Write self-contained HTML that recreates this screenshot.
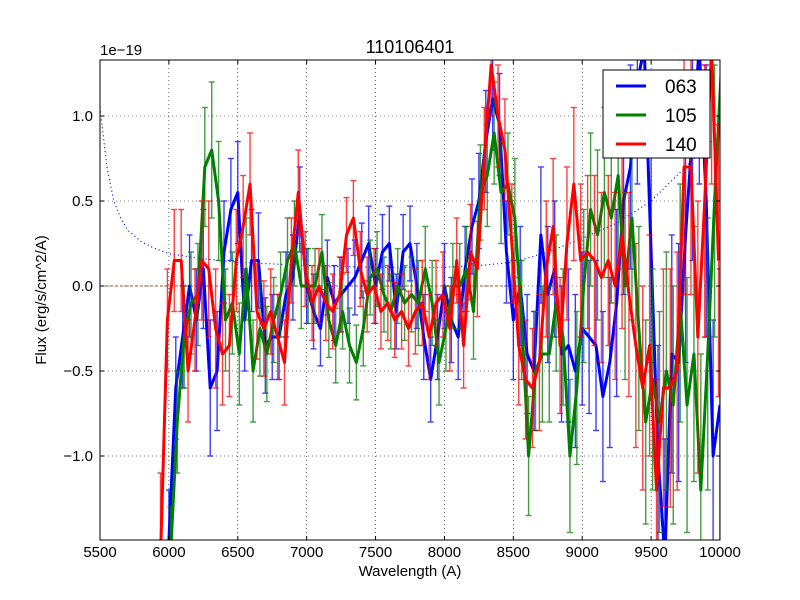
<!DOCTYPE html>
<html><head><meta charset="utf-8"><style>
html,body{margin:0;padding:0;background:#fff;width:800px;height:600px;overflow:hidden;}
svg{display:block;overflow:hidden;}
svg text{font-family:"Liberation Sans","DejaVu Sans",sans-serif;}
</style></head><body>
<svg width="800" height="600" viewBox="0 0 800 600">
<rect width="800" height="600" fill="#fff"/>
<defs><clipPath id="pc"><rect x="100" y="60" width="620" height="480"/></clipPath></defs>
<g id="grid"></g>
<g id="marks" clip-path="url(#pc)"></g>
<rect x="100" y="60" width="620" height="480" fill="none" stroke="#000" stroke-width="1"/>
<g id="ticks"></g>
<text x="410" y="53" font-size="18" text-anchor="middle">110106401</text>
<text x="410" y="576" font-size="15" text-anchor="middle">Wavelength (A)</text>
<text x="46" y="300" font-size="15" text-anchor="middle" transform="rotate(-90 46 300)">Flux (erg/s/cm^2/A)</text>
<text x="100" y="55" font-size="15">1e−19</text>
<g>
<rect x="603" y="70" width="107" height="88" fill="#fff" stroke="#000" stroke-width="1"/>
<g><line x1="616" y1="86" x2="646" y2="86" stroke="#0000ff" stroke-width="3"/><text x="665" y="93" font-size="19">063</text></g>
<g><line x1="616" y1="115" x2="646" y2="115" stroke="#008000" stroke-width="3"/><text x="665" y="122" font-size="19">105</text></g>
<g><line x1="616" y1="144" x2="646" y2="144" stroke="#ff0000" stroke-width="3"/><text x="665" y="151" font-size="19">140</text></g>
</g>
</svg>
<script>
const xTicks=[5500,6000,6500,7000,7500,8000,8500,9000,9500,10000];
const yTicks=[-1.0,-0.5,0.0,0.5,1.0];
const yTickLabels=["−1.0","−0.5","0.0","0.5","1.0"];
const waves=[5950,6000,6050,6100,6150,6200,6250,6300,6350,6400,6450,6500,6550,6600,6650,6700,6750,6800,6850,6900,6950,7000,7050,7100,7150,7200,7250,7300,7350,7400,7450,7500,7550,7600,7650,7700,7750,7800,7850,7900,7950,8000,8050,8100,8150,8200,8250,8300,8350,8400,8450,8500,8550,8600,8650,8700,8750,8800,8850,8900,8950,9000,9050,9100,9150,9200,9250,9300,9350,9400,9450,9500,9550,9600,9650,9700,9750,9800,9850,9900,9950,10000];
const blue063=[null,-1.5,-0.6,-0.3,0.0,-0.2,0.1,-0.6,-0.5,0.2,0.45,0.55,-0.2,0.15,0.15,-0.35,-0.3,-0.3,-0.05,0.05,0.45,0.0,-0.15,-0.25,0.05,-0.1,-0.05,0.0,0.05,0.15,0.25,0.0,0.2,0.25,-0.15,0.2,0.25,0.0,-0.3,-0.55,-0.3,0.0,-0.2,-0.3,0.1,0.35,0.5,0.85,1.1,0.95,0.2,-0.2,0.0,-0.4,-0.5,0.3,-0.05,0.1,-0.4,-0.35,-0.5,-0.25,-0.3,-0.35,-0.65,-0.45,-0.1,0.5,0.7,1.2,1.4,0.2,-1.0,-1.6,-0.4,-0.45,0.3,0.9,1.4,0.5,-1.0,-0.7];
const green105=[null,-1.6,-0.8,-0.3,-0.1,-0.05,0.7,0.8,0.5,-0.2,-0.1,-0.4,0.1,-0.5,-0.25,-0.4,-0.2,-0.05,0.15,0.25,0.0,0.0,0.0,0.2,-0.2,-0.35,-0.15,-0.35,-0.45,-0.25,0.05,0.1,-0.05,-0.15,0.0,-0.1,-0.05,-0.1,0.1,-0.1,-0.45,-0.25,0.0,0.0,0.1,-0.15,0.55,0.65,0.9,0.55,0.6,0.4,-0.2,-1.0,-0.5,-0.4,-0.4,-0.1,-0.3,-1.0,-0.6,0.0,0.45,0.3,0.55,0.4,0.65,0.0,0.4,-0.25,-0.8,-0.55,-0.8,-0.5,-0.7,-0.1,-0.7,-0.4,-1.2,-0.4,0.5,1.3];
const red140=[-1.6,-0.2,0.15,0.15,-0.5,-0.2,0.15,0.1,-0.25,-0.4,-0.35,0.15,0.35,0.6,-0.15,-0.25,-0.15,-0.3,-0.45,0.15,0.55,0.1,-0.1,0.0,-0.1,-0.15,-0.05,0.3,0.4,0.1,-0.05,0.0,-0.15,-0.1,-0.2,-0.15,-0.25,-0.15,-0.1,-0.3,-0.1,-0.05,-0.25,0.15,-0.35,0.2,0.1,0.75,1.3,1.0,0.8,0.25,-0.35,-0.55,-0.6,-0.45,0.1,0.35,-0.35,0.25,0.6,0.15,0.2,0.15,0.05,0.15,0.0,0.3,-0.05,-0.35,-0.6,-0.35,-1.2,-0.6,-0.6,-0.5,0.7,0.7,-0.3,0.5,1.4,0.15];
const errs=[0.5,0.3,0.3,0.3,0.3,0.3,0.35,0.4,0.35,0.3,0.3,0.3,0.3,0.3,0.28,0.28,0.25,0.25,0.25,0.25,0.25,0.22,0.22,0.22,0.22,0.22,0.22,0.22,0.22,0.22,0.22,0.22,0.22,0.22,0.22,0.22,0.22,0.25,0.25,0.25,0.25,0.25,0.25,0.25,0.25,0.28,0.28,0.3,0.3,0.3,0.3,0.35,0.35,0.35,0.35,0.4,0.4,0.4,0.4,0.45,0.45,0.45,0.45,0.5,0.5,0.5,0.55,0.55,0.6,0.6,0.6,0.65,0.65,0.7,0.7,0.7,0.75,0.75,0.8,0.8,0.8,0.8];
const skyWaves=[5500,5550,5600,5650,5700,5800,5900,6000,6250,6500,7000,7500,8000,8250,8500,8750,9000,9250,9500,9750,10000];
const skyFlux=[1.05,0.7,0.5,0.4,0.33,0.26,0.22,0.19,0.16,0.14,0.12,0.11,0.11,0.12,0.14,0.2,0.28,0.37,0.5,0.7,0.9];
const NS="http://www.w3.org/2000/svg";
const X=w=>100+(w-5500)*620/4500;
const Y=v=>286-v*170;
const clampY=y=>Math.max(55,Math.min(545,y));
function el(tag,attrs,parent){const e=document.createElementNS(NS,tag);for(const k in attrs)e.setAttribute(k,attrs[k]);parent.appendChild(e);return e;}
const grid=document.getElementById('grid'),marks=document.getElementById('marks'),ticks=document.getElementById('ticks');
xTicks.forEach(t=>{
 const x=X(t);
 const g=el('line',{x1:x,y1:60,x2:x,y2:540,stroke:'#000','stroke-width':0.6,'stroke-dasharray':'1,3'},grid);
 
 
 el('line',{x1:x,y1:540,x2:x,y2:536,stroke:'#000'},ticks);
 el('line',{x1:x,y1:60,x2:x,y2:64,stroke:'#000'},ticks);
 const tx=el('text',{x:x,y:557,'font-size':15,'text-anchor':'middle'},ticks);
 tx.textContent=t;
 
 
});
yTicks.forEach((t,i)=>{
 const y=Y(t);
 const g=el('line',{x1:100,y1:y,x2:720,y2:y,stroke:'#000','stroke-width':0.6,'stroke-dasharray':'1,3'},grid);
 
 
 el('line',{x1:100,y1:y,x2:104,y2:y,stroke:'#000'},ticks);
 el('line',{x1:720,y1:y,x2:716,y2:y,stroke:'#000'},ticks);
 const tx=el('text',{x:93,y:y+5,'font-size':15,'text-anchor':'end'},ticks);
 tx.textContent=yTickLabels[i];
 
 
});
const zl=el('line',{x1:100,y1:Y(0),x2:X(8500),y2:Y(0),stroke:'#a0522d','stroke-width':1,'stroke-dasharray':'3,2'},marks);


const sky=el('polyline',{points:skyWaves.map((w,i)=>X(w)+','+Y(skyFlux[i])).join(' '),fill:'none',stroke:'#0000ff','stroke-width':1.2,'stroke-dasharray':'1,3'},marks);


function series(vals,color,name,offset){
 const g=el('g',{},marks);
 
 
 const pts=[];
 vals.forEach((v,i)=>{
  if(v===null)return;
  const x=X(waves[i])+offset,e=errs[i];
  pts.push(x+','+Y(v));
  const b=el('g',{stroke:color,'stroke-width':1.4,opacity:0.75},g);
  
  
  const lo=Y(v-e),hi=Y(v+e);
  el('line',{x1:x,y1:clampY(lo),x2:x,y2:clampY(hi)},b);
  if(lo===clampY(lo))el('line',{x1:x-3,y1:lo,x2:x+3,y2:lo},b);
  if(hi===clampY(hi))el('line',{x1:x-3,y1:hi,x2:x+3,y2:hi},b);
 });
 const p=el('polyline',{points:pts.join(' '),fill:'none',stroke:color,'stroke-width':3,'stroke-linejoin':'round'},g);
 
 
}
series(blue063,'#0000ff','series-063',0);
series(green105,'#008000','series-105',1.5);
series(red140,'#ff0000','series-140',-1.5);
</script>
</body></html>
